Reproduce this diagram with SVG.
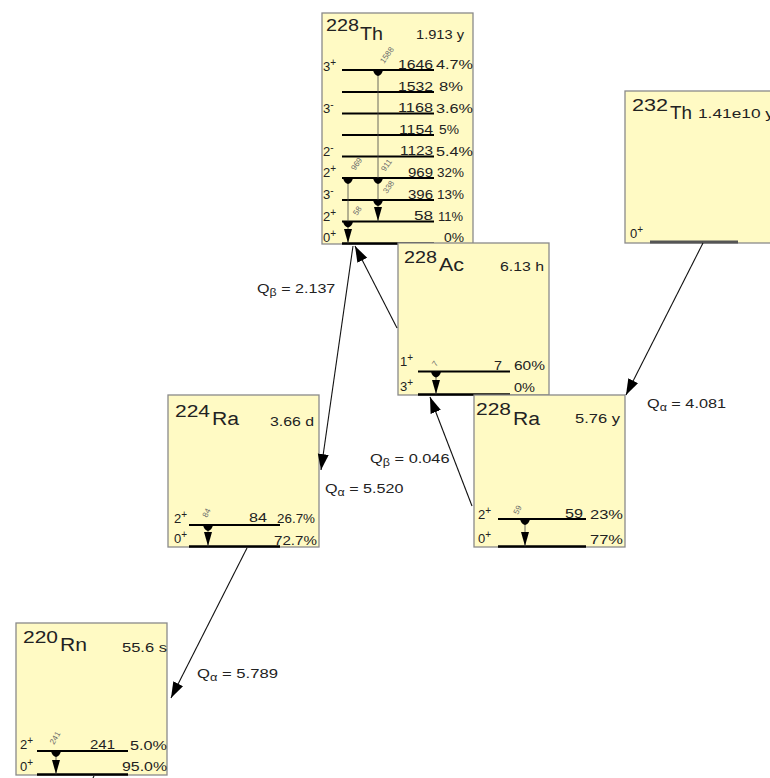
<svg xmlns="http://www.w3.org/2000/svg" xmlns:xlink="http://www.w3.org/1999/xlink" width="770" height="778" viewBox="0 0 770 778">
<style>
.box{fill:#FFFAC4;stroke:#8a8a8a;stroke-width:1.3}
.lvl{stroke:#000;stroke-width:2}
.gnd{stroke:#000;stroke-width:2.5}
.g{stroke:#444;stroke-width:0.8}
text{font-family:"Liberation Sans",Arial,sans-serif;fill:#222}
.mass{font-size:16px}
.el{font-size:18px}
.hl{font-size:12px}
.n{font-size:12.5px}
.sp{font-size:13px}
.sup{font-size:10px}
.gl{font-size:8px;fill:#6a6a6a}
.q{font-size:13px}
.conn line{stroke:#111;stroke-width:1.1;marker-end:url(#ah)}
.end{text-anchor:end}
</style>
<defs>
<marker id="ah" markerWidth="18" markerHeight="12" refX="16" refY="5.5" orient="auto" markerUnits="userSpaceOnUse"><path d="M0,0 L16,5.5 L0,11 Z" fill="#000"/></marker>
<path id="sm" d="M-5,0 H5 Q4,5 0,6 Q-4,5 -5,0 Z" fill="#000"/>
<path id="ar" d="M-4,-14 H4 L0,0 Z" fill="#000"/>
</defs>

<g id="Th232">
<rect class="box" x="625" y="91" width="150" height="152"/>
<text class="mass" x="632" y="111" textLength="36" lengthAdjust="spacingAndGlyphs">232</text>
<text class="el" x="670" y="119" textLength="22" lengthAdjust="spacingAndGlyphs">Th</text>
<text class="hl" x="698" y="118" textLength="76" lengthAdjust="spacingAndGlyphs">1.41e10 y</text>
<text class="sp" x="630" y="238">0<tspan class="sup" dy="-5">+</tspan></text>
<line x1="650" y1="242" x2="738" y2="242" stroke="#555" stroke-width="3"/>
</g>

<g id="Th228">
<rect class="box" x="322" y="13" width="151" height="231"/>
<text class="mass" x="326" y="31" textLength="33" lengthAdjust="spacingAndGlyphs">228</text>
<text class="el" x="360" y="40" textLength="23" lengthAdjust="spacingAndGlyphs">Th</text>
<text class="hl end" x="464" y="39" textLength="48" lengthAdjust="spacingAndGlyphs">1.913 y</text>
<line class="lvl" x1="342" y1="70" x2="434" y2="70"/>
<line class="lvl" x1="342" y1="92" x2="434" y2="92"/>
<line class="lvl" x1="342" y1="113.5" x2="434" y2="113.5"/>
<line class="lvl" x1="342" y1="135" x2="434" y2="135"/>
<line class="lvl" x1="342" y1="156.5" x2="434" y2="156.5"/>
<line class="lvl" x1="342" y1="178" x2="434" y2="178"/>
<line class="lvl" x1="342" y1="200" x2="434" y2="200"/>
<line class="lvl" x1="342" y1="221.5" x2="434" y2="221.5"/>
<line class="gnd" x1="342" y1="243.5" x2="434" y2="243.5"/>
<text class="sp" x="323" y="71">3<tspan class="sup" dy="-5">+</tspan></text>
<text class="sp" x="323" y="113">3<tspan class="sup" dy="-5">-</tspan></text>
<text class="sp" x="323" y="156">2<tspan class="sup" dy="-5">-</tspan></text>
<text class="sp" x="323" y="177">2<tspan class="sup" dy="-5">+</tspan></text>
<text class="sp" x="323" y="199">3<tspan class="sup" dy="-5">-</tspan></text>
<text class="sp" x="323" y="221">2<tspan class="sup" dy="-5">+</tspan></text>
<text class="sp" x="323" y="242">0<tspan class="sup" dy="-5">+</tspan></text>
<text class="n end" x="433" y="68.5" textLength="35" lengthAdjust="spacingAndGlyphs">1646</text>
<text class="n end" x="433" y="90.5" textLength="35" lengthAdjust="spacingAndGlyphs">1532</text>
<text class="n end" x="433" y="112" textLength="35" lengthAdjust="spacingAndGlyphs">1168</text>
<text class="n end" x="433" y="133.5" textLength="34" lengthAdjust="spacingAndGlyphs">1154</text>
<text class="n end" x="433" y="155" textLength="33" lengthAdjust="spacingAndGlyphs">1123</text>
<text class="n end" x="433" y="176.5" textLength="25" lengthAdjust="spacingAndGlyphs">969</text>
<text class="n end" x="433" y="198.5" textLength="25" lengthAdjust="spacingAndGlyphs">396</text>
<text class="n end" x="433" y="220" textLength="19" lengthAdjust="spacingAndGlyphs">58</text>
<text class="n" x="436" y="69" textLength="37" lengthAdjust="spacingAndGlyphs">4.7%</text>
<text class="n" x="439" y="91" textLength="24" lengthAdjust="spacingAndGlyphs">8%</text>
<text class="n" x="436" y="112.5" textLength="37" lengthAdjust="spacingAndGlyphs">3.6%</text>
<text class="n" x="439" y="134" textLength="20" lengthAdjust="spacingAndGlyphs">5%</text>
<text class="n" x="436" y="155.5" textLength="37" lengthAdjust="spacingAndGlyphs">5.4%</text>
<text class="n" x="437" y="177" textLength="27" lengthAdjust="spacingAndGlyphs">32%</text>
<text class="n" x="437" y="199" textLength="27" lengthAdjust="spacingAndGlyphs">13%</text>
<text class="n" x="438" y="220.5" textLength="25" lengthAdjust="spacingAndGlyphs">11%</text>
<text class="n" x="444" y="241.5" textLength="20" lengthAdjust="spacingAndGlyphs">0%</text>
<line class="g" x1="378" y1="70" x2="378" y2="221.5"/>
<line class="g" x1="348" y1="178" x2="348" y2="243.5"/>
<use xlink:href="#sm" x="378" y="70"/>
<use xlink:href="#sm" x="378" y="178"/>
<use xlink:href="#sm" x="378" y="200"/>
<use xlink:href="#sm" x="348" y="178"/>
<use xlink:href="#sm" x="348" y="221.5"/>
<use xlink:href="#ar" x="378" y="221"/>
<use xlink:href="#ar" x="348" y="243"/>
<text class="gl" transform="translate(384,64) rotate(-55)">1588</text>
<text class="gl" transform="translate(355,171) rotate(-55)">969</text>
<text class="gl" transform="translate(385,172) rotate(-55)">911</text>
<text class="gl" transform="translate(387,194) rotate(-55)">338</text>
<text class="gl" transform="translate(357,216) rotate(-55)">58</text>
</g>

<g id="Ac228">
<rect class="box" x="398" y="243" width="151" height="152"/>
<text class="mass" x="404" y="263" textLength="33" lengthAdjust="spacingAndGlyphs">228</text>
<text class="el" x="439" y="271" textLength="25" lengthAdjust="spacingAndGlyphs">Ac</text>
<text class="hl end" x="544" y="271" textLength="44" lengthAdjust="spacingAndGlyphs">6.13 h</text>
<line class="lvl" x1="418" y1="371.5" x2="510" y2="371.5"/>
<line class="gnd" x1="418" y1="394.5" x2="510" y2="394.5"/>
<text class="sp" x="400" y="366">1<tspan class="sup" dy="-5">+</tspan></text>
<text class="sp" x="400" y="391">3<tspan class="sup" dy="-5">+</tspan></text>
<text class="n end" x="502" y="370" textLength="8" lengthAdjust="spacingAndGlyphs">7</text>
<text class="n" x="514" y="370" textLength="31" lengthAdjust="spacingAndGlyphs">60%</text>
<text class="n" x="514" y="392" textLength="21" lengthAdjust="spacingAndGlyphs">0%</text>
<line class="g" x1="436" y1="371.5" x2="436" y2="394.5"/>
<use xlink:href="#sm" x="436" y="371.5"/>
<use xlink:href="#ar" x="436" y="394"/>
<text class="gl" transform="translate(436,367) rotate(-55)">7</text>
</g>

<g id="Ra228">
<rect class="box" x="474" y="395" width="151" height="152"/>
<text class="mass" x="476" y="415" textLength="35" lengthAdjust="spacingAndGlyphs">228</text>
<text class="el" x="513" y="425" textLength="27" lengthAdjust="spacingAndGlyphs">Ra</text>
<text class="hl end" x="620" y="423" textLength="45" lengthAdjust="spacingAndGlyphs">5.76 y</text>
<line class="lvl" x1="498" y1="519" x2="586" y2="519"/>
<line class="gnd" x1="498" y1="546.5" x2="586" y2="546.5"/>
<text class="sp" x="478" y="519">2<tspan class="sup" dy="-5">+</tspan></text>
<text class="sp" x="478" y="543">0<tspan class="sup" dy="-5">+</tspan></text>
<text class="n end" x="583" y="517.5" textLength="18" lengthAdjust="spacingAndGlyphs">59</text>
<text class="n" x="590" y="518.5" textLength="33" lengthAdjust="spacingAndGlyphs">23%</text>
<text class="n" x="590" y="544" textLength="33" lengthAdjust="spacingAndGlyphs">77%</text>
<line class="g" x1="525" y1="519" x2="525" y2="546.5"/>
<use xlink:href="#sm" x="525" y="519"/>
<use xlink:href="#ar" x="525" y="546"/>
<text class="gl" transform="translate(518,515) rotate(-65)">59</text>
</g>

<g id="Ra224">
<rect class="box" x="168" y="395" width="151" height="152"/>
<text class="mass" x="175" y="417" textLength="35" lengthAdjust="spacingAndGlyphs">224</text>
<text class="el" x="212" y="425" textLength="27" lengthAdjust="spacingAndGlyphs">Ra</text>
<text class="hl end" x="314" y="426" textLength="44" lengthAdjust="spacingAndGlyphs">3.66 d</text>
<line class="lvl" x1="189" y1="525" x2="280" y2="525"/>
<line class="gnd" x1="189" y1="546.5" x2="280" y2="546.5"/>
<text class="sp" x="174" y="523">2<tspan class="sup" dy="-5">+</tspan></text>
<text class="sp" x="174" y="543">0<tspan class="sup" dy="-5">+</tspan></text>
<text class="n end" x="267" y="522" textLength="18" lengthAdjust="spacingAndGlyphs">84</text>
<text class="n" x="277" y="523" textLength="38" lengthAdjust="spacingAndGlyphs">26.7%</text>
<text class="n" x="274" y="545" textLength="43" lengthAdjust="spacingAndGlyphs">72.7%</text>
<line class="g" x1="208" y1="525" x2="208" y2="546.5"/>
<use xlink:href="#sm" x="208" y="525"/>
<use xlink:href="#ar" x="208" y="546"/>
<text class="gl" transform="translate(207,518) rotate(-65)">84</text>
</g>

<g id="Rn220">
<rect class="box" x="16" y="623" width="151" height="152"/>
<text class="mass" x="23" y="643" textLength="35" lengthAdjust="spacingAndGlyphs">220</text>
<text class="el" x="60" y="651" textLength="27" lengthAdjust="spacingAndGlyphs">Rn</text>
<text class="hl end" x="167" y="652" textLength="45" lengthAdjust="spacingAndGlyphs">55.6 s</text>
<line class="lvl" x1="37" y1="751" x2="128" y2="751"/>
<line class="gnd" x1="37" y1="774.5" x2="128" y2="774.5"/>
<text class="sp" x="20" y="749">2<tspan class="sup" dy="-5">+</tspan></text>
<text class="sp" x="20" y="771">0<tspan class="sup" dy="-5">+</tspan></text>
<text class="n end" x="115" y="749" textLength="25" lengthAdjust="spacingAndGlyphs">241</text>
<text class="n" x="130" y="750" textLength="37" lengthAdjust="spacingAndGlyphs">5.0%</text>
<text class="n" x="122" y="771" textLength="45" lengthAdjust="spacingAndGlyphs">95.0%</text>
<line class="g" x1="56" y1="751" x2="56" y2="774.5"/>
<use xlink:href="#sm" x="56" y="751"/>
<use xlink:href="#ar" x="56" y="774"/>
<text class="gl" transform="translate(54,745) rotate(-60)">241</text>
</g>

<g id="connectors" class="conn">
<line x1="397" y1="328" x2="355" y2="246"/>
<line x1="353" y1="246" x2="321" y2="470"/>
<line x1="472" y1="506" x2="430" y2="397"/>
<line x1="703" y1="243" x2="626" y2="395"/>
<line x1="247" y1="548" x2="171" y2="698"/>
<path d="M94,776 L93,778" stroke="#111" stroke-width="1.1" fill="none"/>
</g>

<g id="labels">
<text class="q" transform="translate(257,293) scale(1.24,1)">Q<tspan font-size="10" dy="3">β</tspan><tspan dy="-3"> = 2.137</tspan></text>
<text class="q" transform="translate(325,493) scale(1.24,1)">Q<tspan font-size="10" dy="3">α</tspan><tspan dy="-3"> = 5.520</tspan></text>
<text class="q" transform="translate(370,463) scale(1.26,1)">Q<tspan font-size="10" dy="3">β</tspan><tspan dy="-3"> = 0.046</tspan></text>
<text class="q" transform="translate(647,408) scale(1.25,1)">Q<tspan font-size="10" dy="3">α</tspan><tspan dy="-3"> = 4.081</tspan></text>
<text class="q" transform="translate(197,678) scale(1.28,1)">Q<tspan font-size="10" dy="3">α</tspan><tspan dy="-3"> = 5.789</tspan></text>
</g>
</svg>
